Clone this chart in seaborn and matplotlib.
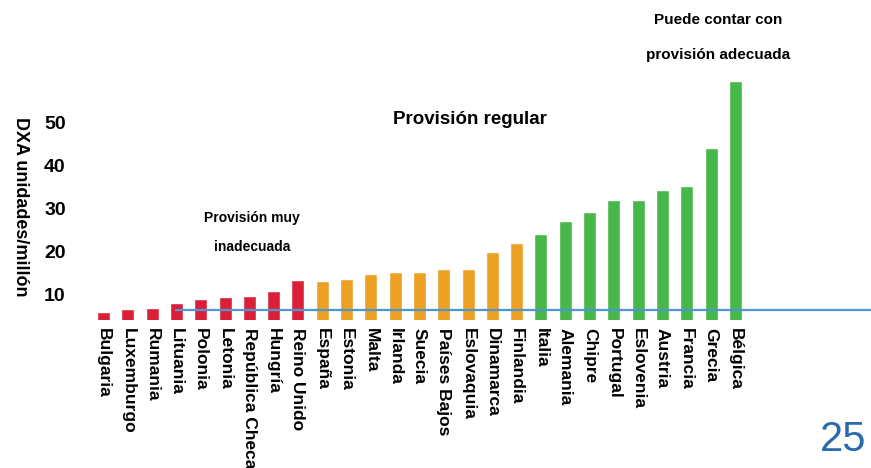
import pandas as pd
import matplotlib.pyplot as plt
import seaborn as sns

sns.set_theme(style="white")
plt.rcParams['font.family'] = ['Liberation Sans', 'DejaVu Sans']
plt.rcParams['text.color'] = 'black'
plt.rcParams['xtick.color'] = 'black'
plt.rcParams['ytick.color'] = 'black'

# Datos (DXA unidades por millón de habitantes)
paises = ['Bulgaria', 'Luxemburgo', 'Rumania', 'Lituania', 'Polonia', 'Letonia',
          'República Checa', 'Hungría', 'Reino Unido',
          'España', 'Estonia', 'Malta', 'Irlanda', 'Suecia', 'Países Bajos',
          'Eslovaquia', 'Dinamarca', 'Finlandia',
          'Italia', 'Alemania', 'Chipre', 'Portugal', 'Eslovenia', 'Austria',
          'Francia', 'Grecia', 'Bélgica']
valores = [5.8, 6.5, 6.7, 7.9, 8.8, 9.3, 9.5, 10.7, 13.3,
           13.0, 13.5, 14.7, 15.1, 15.1, 15.8, 15.8, 19.8, 21.9,
           24.0, 27.0, 29.1, 31.9, 31.9, 34.2, 35.1, 44.0, 59.5]
grupos = ['muy inadecuada'] * 9 + ['regular'] * 9 + ['adecuada'] * 9
colores = {'muy inadecuada': '#DA2039', 'regular': '#ECA024', 'adecuada': '#47B749'}

y_ticks = [10, 20, 30, 40, 50]
umbral = 6.3          # línea de referencia
inicio_umbral = 2.95  # empieza en Lituania

df = pd.DataFrame({'pais': paises, 'valor': valores, 'grupo': grupos})

fig = plt.figure(figsize=(8.71, 4.68), dpi=100)
ax = fig.add_axes([72 / 871, 148 / 468, 799 / 871, 249.4 / 468])

sns.barplot(data=df, x='pais', y='valor', hue='grupo', palette=colores,
            dodge=False, width=0.535, legend=False, saturation=1, ax=ax)

ax.set_ylim(4.0, 62)
ax.set_xlim(-1.30, 31.58)
ax.hlines(umbral, inicio_umbral, ax.get_xlim()[1], color='#4A97D1', lw=1.6, zorder=5)

ax.set_yticks(y_ticks)
ax.set_yticklabels([str(t) for t in y_ticks], fontsize=14, fontweight='bold')
ax.set_xticks(range(len(paises)))
ax.set_xticklabels(paises, rotation=270, fontsize=12.5, fontweight='bold',
                   ha='center', va='top')
ax.tick_params(axis='both', length=0)
ax.tick_params(axis='y', pad=4.5)
ax.tick_params(axis='x', pad=6)
ax.set_xlabel('')
ax.set_ylabel('')
for s in ax.spines.values():
    s.set_visible(False)

# Etiqueta del eje y
fig.text(20 / 871, 1 - 207 / 468, 'DXA unidades/millón', rotation=270,
         fontsize=13, fontweight='bold', ha='center', va='center')

# Anotaciones de las categorías
fig.text(470 / 871, 1 - 119 / 468, 'Provisión regular', fontsize=13.5,
         fontweight='bold', ha='center', va='center')
fig.text(252 / 871, 1 - 218 / 468, 'Provisión muy', fontsize=10,
         fontweight='bold', ha='center', va='center')
fig.text(252 / 871, 1 - 247 / 468, 'inadecuada', fontsize=10,
         fontweight='bold', ha='center', va='center')
fig.text(718 / 871, 1 - 20 / 468, 'Puede contar con', fontsize=11,
         fontweight='bold', ha='center', va='center')
fig.text(718 / 871, 1 - 55 / 468, 'provisión adecuada', fontsize=11,
         fontweight='bold', ha='center', va='center')

# Número de página
fig.text(843 / 871, 1 - 440 / 468, '25', fontsize=30, color='#2A6AAD',
         ha='center', va='center')

plt.savefig('out.png', dpi=100)
plt.close()
